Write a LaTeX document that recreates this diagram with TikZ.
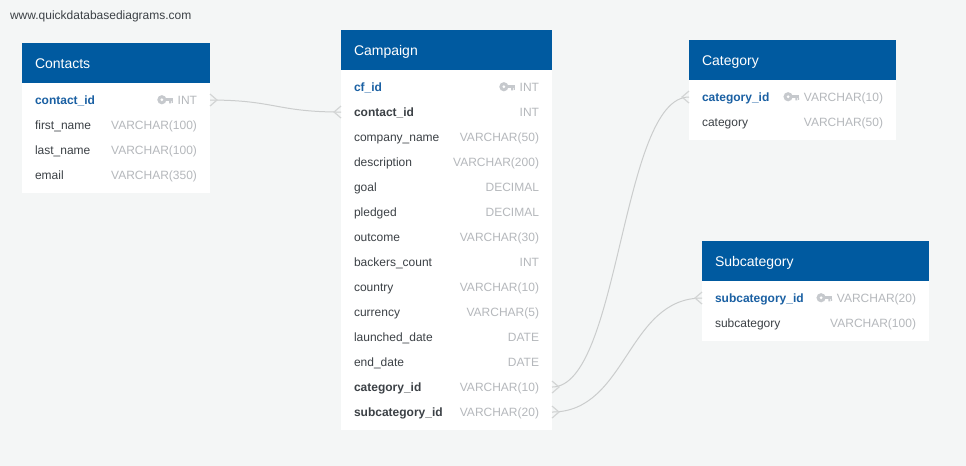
\documentclass[tikz,border=0pt]{standalone}
\usepackage{fontspec}
\setmainfont{Liberation Sans}
\usepackage{xcolor}
\usetikzlibrary{positioning}

\definecolor{pagebg}{HTML}{F4F6F6}
\definecolor{headblue}{HTML}{005AA0}
\definecolor{keyblue}{HTML}{1A60A3}
\definecolor{fielddark}{HTML}{3C4146}
\definecolor{typegray}{HTML}{B5B8BC}
\definecolor{keygray}{HTML}{C6C9CD}
\definecolor{linkgray}{HTML}{CBCDCD}
\definecolor{footgray}{HTML}{D3D5D5}

\begin{document}
\begin{tikzpicture}[
    x=0.75pt, y=-0.75pt,
    every node/.style={outer sep=0pt},
    tablehead/.style={rectangle, fill=headblue, text=white, anchor=north west, minimum height=30pt, text height=10pt, text depth=2pt, inner xsep=9.75pt, inner ysep=0pt, align=left, font=\fontsize{10.5}{12}\selectfont},
    tablebody/.style={rectangle, fill=white, inner sep=0pt, below=0pt of #1},
    field/.style={rectangle, inner sep=0pt, minimum height=18.75pt, text height=9pt, text depth=2.2pt, text=fielddark, font=\fontsize{9}{11}\selectfont},
    firstrow/.style={field, below=3.4pt of #1.south west, anchor=north west, xshift=9.75pt},
    nextrow/.style={field, below=0pt of #1.south west, anchor=north west},
    pkey/.style={text=keyblue, font=\fontsize{9}{11}\selectfont\bfseries},
    fkey/.style={font=\fontsize{9}{11}\selectfont\bfseries},
    ftype/.style={field, anchor=east, xshift=-9.75pt, text=typegray},
    link/.style={draw=linkgray, line width=0.75pt},
    foot/.style={draw=footgray, line width=0.9pt},
    keyicon/.pic={
        \fill[keygray, even odd rule] (-11,-0.3) circle (4.6) (-11,-0.3) circle (1.7);
        \fill[keygray] (-8,-1.8) rectangle (0,1.2);
        \fill[keygray] (-3.8,1) rectangle (-1.8,3.4) (-1,1) rectangle (0,2.8);
    },
    crowfoot/.pic={
        \draw[foot] (0,-6) -- (#1,0) -- (0,6);
    }
]
    \fill[pagebg] (0,0) rectangle (966,466);
    \node[anchor=west, inner sep=0pt, text=fielddark, font=\fontsize{9}{11}\selectfont] (site) at (10,16) {www.quickdatabasediagrams.com};

    % Contacts
    \node[tablehead, text width=121.5pt] (contacts) at (22,43) {Contacts};
    \node[tablebody=contacts, minimum width=141pt, minimum height=82.5pt] (contactsbody) {};
    \node[firstrow=contacts, pkey] (contactid) {contact\_id};
    \node[nextrow=contactid] (firstname) {first\_name};
    \node[nextrow=firstname] (lastname) {last\_name};
    \node[nextrow=lastname] (email) {email};
    \node[ftype] (contactidT) at (contactid -| contactsbody.east) {INT};
    \node[ftype] (firstnameT) at (firstname -| contactsbody.east) {VARCHAR(100)};
    \node[ftype] (lastnameT) at (lastname -| contactsbody.east) {VARCHAR(100)};
    \node[ftype] (emailT) at (email -| contactsbody.east) {VARCHAR(350)};
    \pic at ([xshift=-3.6pt]contactidT.west) {keyicon};

    % Campaign
    \node[tablehead, text width=138.75pt] (campaign) at (341,30) {Campaign};
    \node[tablebody=campaign, minimum width=158.25pt, minimum height=270pt] (campaignbody) {};
    \node[firstrow=campaign, pkey] (cfid) {cf\_id};
    \node[nextrow=cfid, fkey] (campcontact) {contact\_id};
    \node[nextrow=campcontact] (company) {company\_name};
    \node[nextrow=company] (description) {description};
    \node[nextrow=description] (goal) {goal};
    \node[nextrow=goal] (pledged) {pledged};
    \node[nextrow=pledged] (outcome) {outcome};
    \node[nextrow=outcome] (backers) {backers\_count};
    \node[nextrow=backers] (country) {country};
    \node[nextrow=country] (currency) {currency};
    \node[nextrow=currency] (launched) {launched\_date};
    \node[nextrow=launched] (enddate) {end\_date};
    \node[nextrow=enddate, fkey] (campcategory) {category\_id};
    \node[nextrow=campcategory, fkey] (campsubcategory) {subcategory\_id};
    \node[ftype] (cfidT) at (cfid -| campaignbody.east) {INT};
    \node[ftype] (campcontactT) at (campcontact -| campaignbody.east) {INT};
    \node[ftype] (companyT) at (company -| campaignbody.east) {VARCHAR(50)};
    \node[ftype] (descriptionT) at (description -| campaignbody.east) {VARCHAR(200)};
    \node[ftype] (goalT) at (goal -| campaignbody.east) {DECIMAL};
    \node[ftype] (pledgedT) at (pledged -| campaignbody.east) {DECIMAL};
    \node[ftype] (outcomeT) at (outcome -| campaignbody.east) {VARCHAR(30)};
    \node[ftype] (backersT) at (backers -| campaignbody.east) {INT};
    \node[ftype] (countryT) at (country -| campaignbody.east) {VARCHAR(10)};
    \node[ftype] (currencyT) at (currency -| campaignbody.east) {VARCHAR(5)};
    \node[ftype] (launchedT) at (launched -| campaignbody.east) {DATE};
    \node[ftype] (enddateT) at (enddate -| campaignbody.east) {DATE};
    \node[ftype] (campcategoryT) at (campcategory -| campaignbody.east) {VARCHAR(10)};
    \node[ftype] (campsubcategoryT) at (campsubcategory -| campaignbody.east) {VARCHAR(20)};
    \pic at ([xshift=-3.6pt]cfidT.west) {keyicon};

    % Category
    \node[tablehead, text width=135.75pt] (category) at (689,40) {Category};
    \node[tablebody=category, minimum width=155.25pt, minimum height=45pt] (categorybody) {};
    \node[firstrow=category, pkey] (categoryid) {category\_id};
    \node[nextrow=categoryid] (categoryname) {category};
    \node[ftype] (categoryidT) at (categoryid -| categorybody.east) {VARCHAR(10)};
    \node[ftype] (categorynameT) at (categoryname -| categorybody.east) {VARCHAR(50)};
    \pic at ([xshift=-3.6pt]categoryidT.west) {keyicon};

    % Subcategory
    \node[tablehead, text width=150.75pt] (subcategory) at (702,241) {Subcategory};
    \node[tablebody=subcategory, minimum width=170.25pt, minimum height=45pt] (subcategorybody) {};
    \node[firstrow=subcategory, pkey] (subcategoryid) {subcategory\_id};
    \node[nextrow=subcategoryid] (subcategoryname) {subcategory};
    \node[ftype] (subcategoryidT) at (subcategoryid -| subcategorybody.east) {VARCHAR(20)};
    \node[ftype] (subcategorynameT) at (subcategoryname -| subcategorybody.east) {VARCHAR(100)};
    \pic at ([xshift=-3.6pt]subcategoryidT.west) {keyicon};

    % links
    \draw[link] (contactsbody.east |- contactid) .. controls +(65,0) and +(-65,0) .. (campaignbody.west |- campcontact);
    \draw[link] (campaignbody.east |- campcategory) .. controls +(68,0) and +(-68,0) .. (categorybody.west |- categoryid);
    \draw[link] (campaignbody.east |- campsubcategory) .. controls +(75,0) and +(-75,0) .. (subcategorybody.west |- subcategoryid);
    \pic at (contactsbody.east |- contactid) {crowfoot=7};
    \pic at (campaignbody.west |- campcontact) {crowfoot=-7};
    \pic at (campaignbody.east |- campcategory) {crowfoot=7};
    \pic at (categorybody.west |- categoryid) {crowfoot=-7};
    \pic at (campaignbody.east |- campsubcategory) {crowfoot=7};
    \pic at (subcategorybody.west |- subcategoryid) {crowfoot=-7};
\end{tikzpicture}
\end{document}
